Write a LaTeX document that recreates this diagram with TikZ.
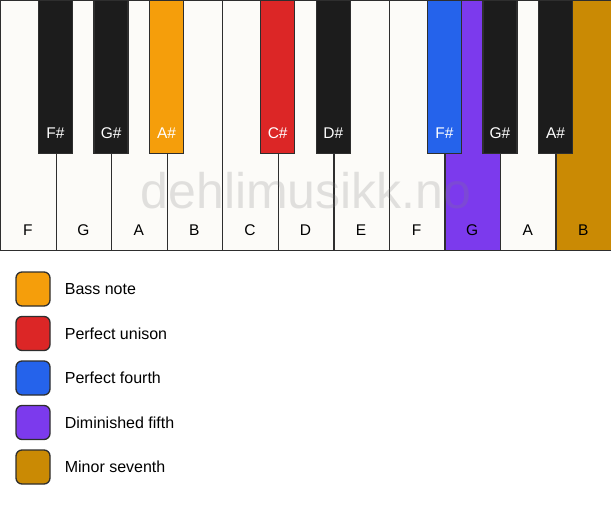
\documentclass[tikz,border=0pt]{standalone}
\usepackage{fontspec}
\setmainfont{Liberation Sans}
\usetikzlibrary{positioning}
\definecolor{keyline}{HTML}{2E2E2E}
\definecolor{keywhite}{HTML}{FCFBF8}
\definecolor{keyblack}{HTML}{1C1C1C}
\definecolor{bassnote}{HTML}{F59E0B}
\definecolor{unison}{HTML}{DC2626}
\definecolor{fourth}{HTML}{2563EB}
\definecolor{dimfifth}{HTML}{7C3AED}
\definecolor{minseventh}{HTML}{CA8A04}
\tikzstyle{whitekey} = [rectangle, draw=keyline, fill=keywhite, line width=1.3pt, inner sep=0,
                        minimum width=55.545pt, minimum height=250pt, anchor=north west]
\tikzstyle{blackkey} = [rectangle, draw=keyline, fill=keyblack, line width=1.3pt, inner sep=0,
                        minimum width=34pt, minimum height=153pt, anchor=north]
\tikzstyle{keytext} = [font=\fontsize{15.5}{18}\selectfont]
\tikzstyle{swatch} = [rectangle, rounded corners=6pt, draw=keyline, line width=1.3pt, minimum size=34pt]
\tikzstyle{legendtext} = [inner sep=0, font=\fontsize{16}{19}\selectfont]

\begin{document}
\begin{tikzpicture}[x=1pt, y=-1pt]
				\useasboundingbox (0, 0) rectangle (611, 506);

				% white keys
				\node (KeyF1) [whitekey] at (0, 0) {};
				\node (KeyG1) [whitekey] at (55.545, 0) {};
				\node (KeyA1) [whitekey] at (111.09, 0) {};
				\node (KeyB1) [whitekey] at (166.64, 0) {};
				\node (KeyC) [whitekey] at (222.18, 0) {};
				\node (KeyD) [whitekey] at (277.73, 0) {};
				\node (KeyE) [whitekey] at (333.27, 0) {};
				\node (KeyF2) [whitekey] at (388.82, 0) {};
				\node (KeyG2) [whitekey, fill=dimfifth] at (444.36, 0) {};
				\node (KeyA2) [whitekey] at (499.91, 0) {};
				\node (KeyB2) [whitekey, fill=minseventh] at (555.45, 0) {};

				\node (LabelF1) [keytext] at (27.8, 230) {F};
				\node (LabelG1) [keytext] at (83.3, 230) {G};
				\node (LabelA1) [keytext] at (138.9, 230) {A};
				\node (LabelB1) [keytext] at (194.4, 230) {B};
				\node (LabelC) [keytext] at (250, 230) {C};
				\node (LabelD) [keytext] at (305.5, 230) {D};
				\node (LabelE) [keytext] at (361, 230) {E};
				\node (LabelF2) [keytext] at (416.6, 230) {F};
				\node (LabelG2) [keytext] at (472.1, 230) {G};
				\node (LabelA2) [keytext] at (527.7, 230) {A};
				\node (LabelB2) [keytext] at (583.2, 230) {B};

				% black keys
				\node (KeyFs1) [blackkey] at (55.545, 0) {};
				\node (KeyGs1) [blackkey] at (111.09, 0) {};
				\node (KeyAs1) [blackkey, fill=bassnote] at (166.64, 0) {};
				\node (KeyCs) [blackkey, fill=unison] at (277.73, 0) {};
				\node (KeyDs) [blackkey] at (333.27, 0) {};
				\node (KeyFs2) [blackkey, fill=fourth] at (444.36, 0) {};
				\node (KeyGs2) [blackkey] at (499.91, 0) {};
				\node (KeyAs2) [blackkey] at (555.45, 0) {};

				\node (LabelFs1) [keytext, text=white] at (55.5, 133) {F\#};
				\node (LabelGs1) [keytext, text=white] at (111.1, 133) {G\#};
				\node (LabelAs1) [keytext, text=white] at (166.6, 133) {A\#};
				\node (LabelCs) [keytext, text=white] at (277.7, 133) {C\#};
				\node (LabelDs) [keytext, text=white] at (333.3, 133) {D\#};
				\node (LabelFs2) [keytext, text=white] at (444.4, 133) {F\#};
				\node (LabelGs2) [keytext, text=white] at (499.9, 133) {G\#};
				\node (LabelAs2) [keytext, text=white] at (555.5, 133) {A\#};

				% watermark
				\node (Mark) [font=\fontsize{50}{52}\selectfont, text=gray, opacity=0.22] at (306, 191) {dehlimusikk.no};

				% legend
				\node (SwatchBass) [swatch, fill=bassnote] at (33, 289) {};
				\node (TextBass) [legendtext, right=14pt of SwatchBass] {Bass note};

				\node (SwatchUnison) [swatch, fill=unison] at (33, 333.5) {};
				\node (TextUnison) [legendtext, right=14pt of SwatchUnison] {Perfect unison};

				\node (SwatchFourth) [swatch, fill=fourth] at (33, 378) {};
				\node (TextFourth) [legendtext, right=14pt of SwatchFourth] {Perfect fourth};

				\node (SwatchFifth) [swatch, fill=dimfifth] at (33, 422.5) {};
				\node (TextFifth) [legendtext, right=14pt of SwatchFifth] {Diminished fifth};

				\node (SwatchSeventh) [swatch, fill=minseventh] at (33, 467) {};
				\node (TextSeventh) [legendtext, right=14pt of SwatchSeventh] {Minor seventh};
			\end{tikzpicture}
\end{document}
